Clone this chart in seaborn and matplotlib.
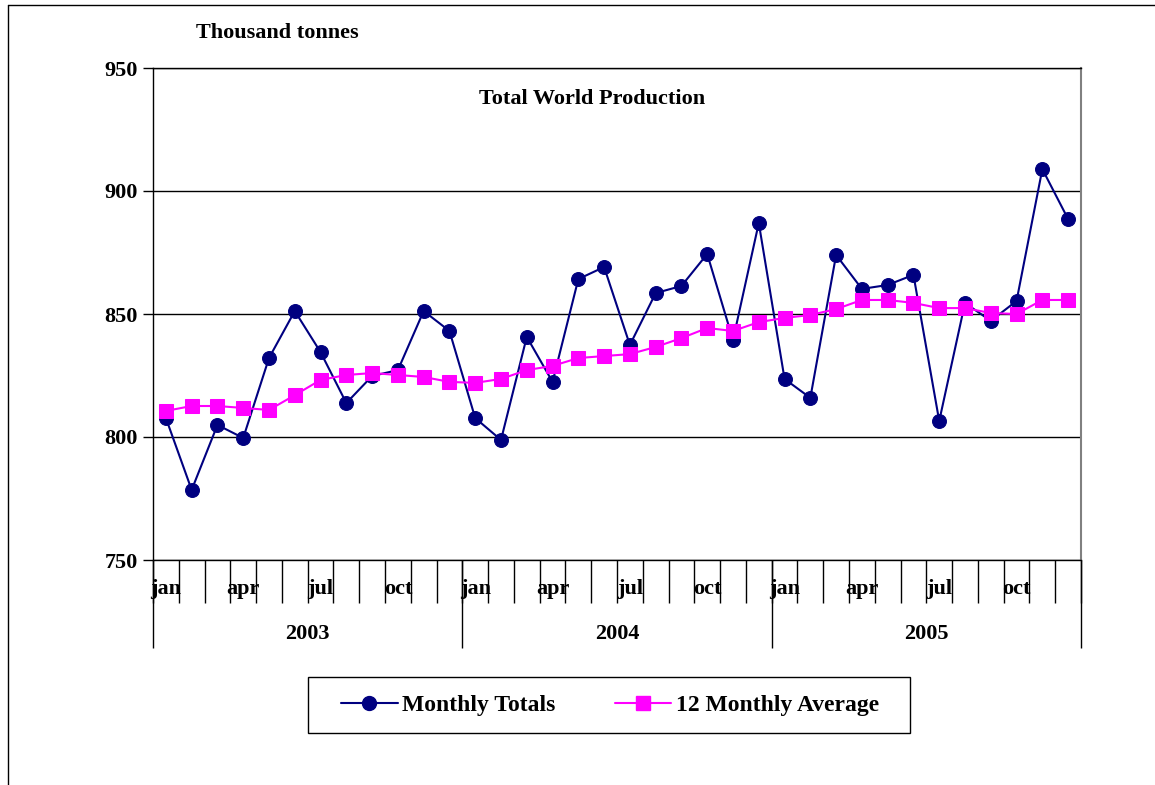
import numpy as np
import pandas as pd
import matplotlib
matplotlib.use('Agg')
import matplotlib.pyplot as plt
import seaborn as sns
from matplotlib.lines import Line2D
from matplotlib.patches import Rectangle

# Estilo
sns.set_style('white')
plt.rcParams['font.family'] = ['Liberation Serif', 'DejaVu Serif']
plt.rcParams['font.weight'] = 'bold'
plt.rcParams['text.color'] = 'black'
plt.rcParams['xtick.color'] = 'black'
plt.rcParams['ytick.color'] = 'black'
plt.rcParams['xtick.labelcolor'] = 'black'
plt.rcParams['ytick.labelcolor'] = 'black'

# Dados (mil toneladas)
anos = ['2003', '2004', '2005']
meses = ['jan', 'feb', 'mar', 'apr', 'may', 'jun', 'jul', 'aug', 'sep', 'oct', 'nov', 'dec']
rotulos_meses = ['jan', '', '', 'apr', '', '', 'jul', '', '', 'oct', '', '']

totais_mensais = [807.7, 778.5, 804.9, 799.6, 832.1, 851.2, 834.5, 813.8, 824.8, 827.2, 851.2, 843.1,
                  807.7, 798.8, 840.7, 822.4, 864.2, 869.1, 837.4, 858.5, 861.4, 874.4, 839.4, 887.0,
                  823.6, 815.9, 874.0, 860.2, 861.8, 865.9, 806.5, 854.5, 847.2, 855.3, 908.9, 888.6]
media_12m = [810.6, 812.6, 812.6, 811.8, 811.0, 817.0, 823.2, 825.2, 826.0, 825.2, 824.4, 822.4,
             822.0, 823.6, 827.2, 828.9, 832.1, 832.9, 833.7, 836.6, 840.2, 844.3, 843.1, 846.7,
             848.4, 849.6, 852.0, 855.7, 855.7, 854.5, 852.4, 852.4, 850.4, 850.0, 855.7, 855.7]

df = pd.DataFrame({
    'mes': np.arange(len(totais_mensais)),
    'Monthly Totals': totais_mensais,
    '12 Monthly Average': media_12m,
})

cor_total = '#000080'
cor_media = '#FF00FF'
tam = 16

W, H = 1155, 785
fig = plt.figure(figsize=(W / 100, H / 100), dpi=100)
ax = fig.add_axes([153 / W, 1 - 560 / H, 928 / W, 492 / H])

sns.lineplot(data=df, x='mes', y='Monthly Totals', ax=ax, color=cor_total, linewidth=1.5,
             marker='o', markersize=10, markeredgecolor=cor_total, label='Monthly Totals', legend=False)
sns.lineplot(data=df, x='mes', y='12 Monthly Average', ax=ax, color=cor_media, linewidth=1.5,
             marker='s', markersize=10, markeredgecolor=cor_media, label='12 Monthly Average', legend=False)

# Eixo Y
ax.set_ylim(750, 950)
ax.set_yticks([750, 800, 850, 900, 950])
ax.yaxis.grid(True, color='black', linewidth=1)
ax.tick_params(axis='y', which='major', direction='out', length=7, width=1, color='black',
               labelsize=tam, pad=4, left=True)
for lab in ax.get_yticklabels():
    lab.set_fontweight('bold')
ax.set_ylabel('')

# Eixo X: meses
n = len(totais_mensais)
ax.set_xlim(-0.5, n - 0.5)
ax.set_xticks(np.arange(-0.5, n, 1.0))
ax.set_xticklabels([])
ax.set_xticks(np.arange(n), minor=True)
ax.set_xticklabels(rotulos_meses * len(anos), minor=True)
ax.tick_params(axis='x', which='major', direction='out', length=31, width=1, color='black', bottom=True)
ax.tick_params(axis='x', which='minor', length=0, labelsize=tam, pad=14)
for lab in ax.get_xticklabels(minor=True):
    lab.set_fontweight('bold')
ax.set_xlabel('')

# Eixo X secundário: anos
sec = ax.secondary_xaxis('bottom')
sec.set_xticks([-0.5, 11.5, 23.5, 35.5])
sec.set_xticklabels([])
sec.set_xticks([5.5, 17.5, 29.5], minor=True)
sec.set_xticklabels(anos, minor=True)
sec.tick_params(axis='x', which='major', direction='out', length=63, width=1, color='black')
sec.tick_params(axis='x', which='minor', length=0, labelsize=tam, pad=46)
for lab in sec.get_xticklabels(minor=True):
    lab.set_fontweight('bold')
sec.spines['bottom'].set_visible(False)

# Bordas
for s in ['left', 'bottom', 'top']:
    ax.spines[s].set_color('black')
    ax.spines[s].set_linewidth(1)
ax.spines['right'].set_color('#808080')
ax.spines['right'].set_linewidth(1.5)

# Textos
fig.text(277 / W, 1 - 33 / H, 'Thousand tonnes', ha='center', va='center', fontsize=tam, fontweight='bold')
fig.text(592 / W, 1 - 99 / H, 'Total World Production', ha='center', va='center', fontsize=tam, fontweight='bold')

# Legenda (caixa desenhada à parte)
handles = [
    Line2D([0], [0], color=cor_total, linewidth=1.5, marker='o', markersize=10),
    Line2D([0], [0], color=cor_media, linewidth=1.5, marker='s', markersize=10),
]
leg = fig.legend(handles, ['Monthly Totals', '12 Monthly Average'], loc='center',
                 bbox_to_anchor=(610 / W, 1 - 705 / H), ncol=2, frameon=False,
                 prop={'size': 17, 'weight': 'bold'}, handlelength=2.4,
                 columnspacing=2.5, borderpad=0.75, handletextpad=0.2, borderaxespad=0)
fig.add_artist(Rectangle((308 / W, 1 - 733 / H), 602 / W, 56 / H, transform=fig.transFigure,
                         fill=False, edgecolor='black', linewidth=1))

# Moldura externa
fig.add_artist(Line2D([8 / W, 8 / W], [0, 1 - 5 / H], color='black', linewidth=1))
fig.add_artist(Line2D([8 / W, 1], [1 - 5 / H, 1 - 5 / H], color='black', linewidth=1))

fig.savefig('out.png', dpi=100)
plt.close(fig)
